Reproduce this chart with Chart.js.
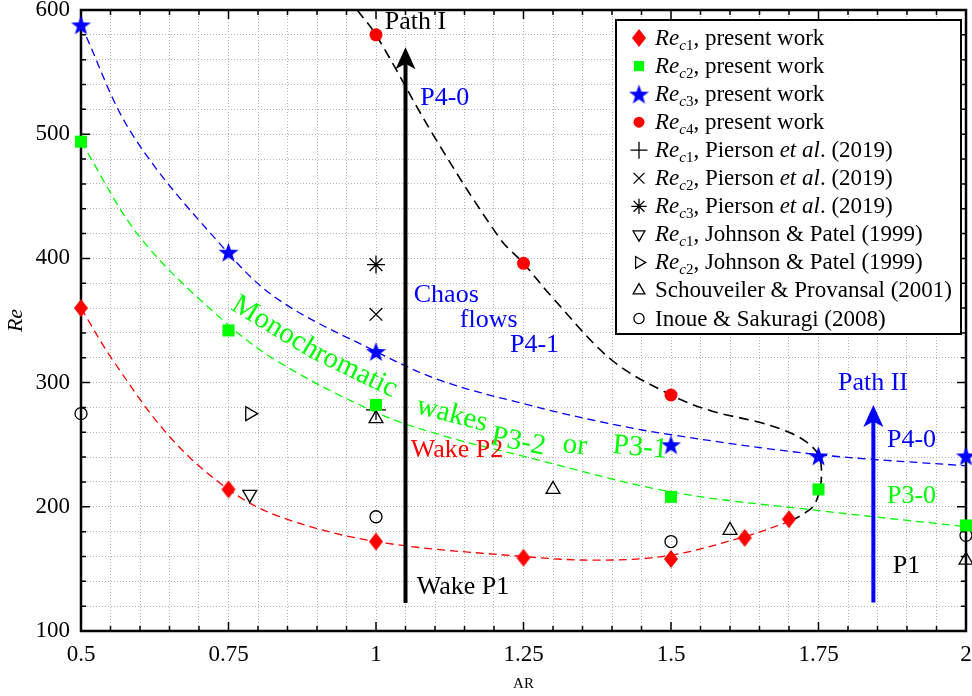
<!DOCTYPE html>
<html>
<head>
<meta charset="utf-8">
<script src="https://cdn.jsdelivr.net/npm/chart.js@4.4.1/dist/chart.umd.min.js"></script>
<style>
  html, body { margin: 0; padding: 0; background: #fff; }
  #wrap { width: 972px; height: 696px; }
</style>
</head>
<body>
<div id="wrap"><canvas id="reChart" width="972" height="696"></canvas></div>
<script>
// Critical Reynolds numbers against aspect ratio
const xTicks = [0.5, 0.75, 1, 1.25, 1.5, 1.75, 2];
const yTicks = [100, 200, 300, 400, 500, 600];

// present work
const rec1AR = [0.5, 0.75, 1, 1.25, 1.5, 1.625, 1.7];
const rec1Re = [360, 214, 172, 159, 158, 175, 190];
const rec2AR = [0.5, 0.75, 1, 1.5, 1.75, 2];
const rec2Re = [494, 342, 282, 208, 214, 185];
const rec3AR = [0.5, 0.75, 1, 1.5, 1.75, 2];
const rec3Re = [588, 405, 325, 250, 241, 241];
const rec4AR = [1, 1.25, 1.5];
const rec4Re = [580, 396, 290];

// published values
const piersonAR = [1];
const pierson1Re = [278];
const pierson2Re = [355];
const pierson3Re = [395];
const johnsonAR = [0.786];
const johnson1Re = [210];
const johnson2Re = [275];
const schouAR = [1, 1.3, 1.6, 2];
const schouRe = [271, 214, 181, 157];
const inoueAR = [0.5, 1, 1.5, 2];
const inoueRe = [275, 192, 172, 177];

// dashed transition boundaries
const fit1AR = [0.5, 0.554, 0.651, 0.75, 0.837, 1, 1.25, 1.38, 1.5, 1.625, 1.7];
const fit1Re = [360, 318, 256, 214, 192, 172, 160, 157, 161, 176, 188];
const fit2AR = [0.5, 0.6, 0.741, 0.837, 1, 1.108, 1.256, 1.5, 1.75, 2];
const fit2Re = [494, 417, 350, 316, 276, 258, 240, 212, 197, 184];
const fit3AR = [0.5, 0.588, 0.75, 0.837, 1, 1.108, 1.25, 1.38, 1.5, 1.75, 2];
const fit3Re = [588, 499, 404, 366, 325, 302, 283, 268.5, 258, 242, 233];
const fit4AR = [0.968, 1, 1.1, 1.21, 1.25, 1.3, 1.4, 1.5, 1.57, 1.65, 1.7, 1.73, 1.75, 1.755, 1.753, 1.742, 1.72, 1.7];
const fit4Re = [600, 580, 497, 416, 396, 368, 318, 290, 277, 268, 260, 252, 242, 230, 216, 201, 193, 188];

// path arrows: AR, start Re, tip Re
const arrowAR = [1.05, 1.843];
const arrowFrom = [122.5, 123];
const arrowTo = [570, 282];

const serif = '"Liberation Serif", "Times New Roman", Times, serif';
const RED = '#ff0000', GREEN = '#00ff00', BLUE = '#0000ff';

function zip(xs, ys) { return xs.map((x, i) => ({ x, y: ys[i] })); }

function starSprite(r, color) {
  const c = document.createElement('canvas');
  const s = Math.ceil(r * 2 + 2);
  c.width = s; c.height = s;
  const g = c.getContext('2d');
  g.fillStyle = color;
  g.beginPath();
  for (let i = 0; i < 10; i++) {
    const rr = i % 2 ? r * 0.4 : r;
    const a = -Math.PI / 2 + i * Math.PI / 5;
    g.lineTo(s / 2 + rr * Math.cos(a), s / 2 + 1 + rr * Math.sin(a));
  }
  g.closePath();
  g.fill();
  return c;
}

function diamondSprite(w, h, color) {
  const c = document.createElement('canvas');
  c.width = w + 2; c.height = h + 2;
  const g = c.getContext('2d');
  g.fillStyle = color;
  g.beginPath();
  g.moveTo(c.width / 2, 1);
  g.lineTo(c.width - 1, c.height / 2);
  g.lineTo(c.width / 2, c.height - 1);
  g.lineTo(1, c.height / 2);
  g.closePath();
  g.fill();
  return c;
}

function marks(label, data, style, extra) {
  return Object.assign({
    label, data, showLine: false, clip: false,
    pointStyle: style, pointRadius: 7, pointHoverRadius: 7,
    pointBackgroundColor: 'rgba(0,0,0,0)', pointBorderColor: '#000', pointBorderWidth: 1.3
  }, extra);
}

function curve(label, data, color, dash, width) {
  return {
    label, data, showLine: true, clip: false, pointRadius: 0, pointHoverRadius: 0,
    borderColor: color, borderWidth: width, borderDash: dash, tension: 0.35, fill: false
  };
}

const datasets = [
  marks('Re_c1 present', zip(rec1AR, rec1Re), diamondSprite(14, 18, RED)),
  marks('Re_c2 present', zip(rec2AR, rec2Re), 'rect', { pointRadius: 8.5, pointBackgroundColor: GREEN, pointBorderWidth: 0 }),
  marks('Re_c3 present', zip(rec3AR, rec3Re), starSprite(10.5, BLUE)),
  marks('Re_c4 present', zip(rec4AR, rec4Re), 'circle', { pointRadius: 6.5, pointBackgroundColor: RED, pointBorderWidth: 0 }),
  marks('Re_c1 Pierson', zip(piersonAR, pierson1Re), 'cross', { pointRadius: 10 }),
  marks('Re_c2 Pierson', zip(piersonAR, pierson2Re), 'crossRot', { pointRadius: 9 }),
  marks('Re_c3 Pierson', zip(piersonAR, pierson3Re), 'star', { pointRadius: 9 }),
  marks('Re_c1 Johnson', zip(johnsonAR, johnson1Re), 'triangle', { pointRadius: 8, pointRotation: 180 }),
  marks('Re_c2 Johnson', zip(johnsonAR, johnson2Re), 'triangle', { pointRadius: 8, pointRotation: 90 }),
  marks('Schouveiler', zip(schouAR, schouRe), 'triangle', { pointRadius: 8 }),
  marks('Inoue', zip(inoueAR, inoueRe), 'circle', { pointRadius: 6 }),
  curve('fit c1', zip(fit1AR, fit1Re), RED, [8, 5], 1.3),
  curve('fit c2', zip(fit2AR, fit2Re), GREEN, [8, 5], 1.3),
  curve('fit c3', zip(fit3AR, fit3Re), BLUE, [8, 5], 1.3),
  curve('fit c4', zip(fit4AR, fit4Re), '#000', [10, 6], 1.6)
];

// legend rows: dataset index + rich text runs (i italic, si italic subscript, s subscript)
const legendRows = [
  [0, [['Re', 'i'], ['c', 'si'], ['1', 's'], [', present work', 'r']]],
  [1, [['Re', 'i'], ['c', 'si'], ['2', 's'], [', present work', 'r']]],
  [2, [['Re', 'i'], ['c', 'si'], ['3', 's'], [', present work', 'r']]],
  [3, [['Re', 'i'], ['c', 'si'], ['4', 's'], [', present work', 'r']]],
  [4, [['Re', 'i'], ['c', 'si'], ['1', 's'], [', Pierson ', 'r'], ['et al', 'i'], ['. (2019)', 'r']]],
  [5, [['Re', 'i'], ['c', 'si'], ['2', 's'], [', Pierson ', 'r'], ['et al', 'i'], ['. (2019)', 'r']]],
  [6, [['Re', 'i'], ['c', 'si'], ['3', 's'], [', Pierson ', 'r'], ['et al', 'i'], ['. (2019)', 'r']]],
  [7, [['Re', 'i'], ['c', 'si'], ['1', 's'], [', Johnson & Patel (1999)', 'r']]],
  [8, [['Re', 'i'], ['c', 'si'], ['2', 's'], [', Johnson & Patel (1999)', 'r']]],
  [9, [['Schouveiler & Provansal (2001)', 'r']]],
  [10, [['Inoue & Sakuragi (2008)', 'r']]]
];

// regime labels anchored in data space (left edge, vertical centre)
const notes = [
  { text: 'Path I', x: 1.015, y: 590, color: '#000' },
  { text: 'P4-0', x: 1.075, y: 529, color: BLUE },
  { text: 'Chaos', x: 1.064, y: 370.5, color: BLUE },
  { text: 'flows', x: 1.142, y: 350.4, color: BLUE },
  { text: 'P4-1', x: 1.227, y: 330.3, color: BLUE },
  { text: 'Wake P2', x: 1.059, y: 245.7, color: RED },
  { text: 'Wake P1', x: 1.069, y: 135.4, color: '#000' },
  { text: 'Path II', x: 1.783, y: 299.7, color: BLUE },
  { text: 'P4-0', x: 1.866, y: 253.8, color: BLUE },
  { text: 'P3-0', x: 1.866, y: 208.7, color: GREEN },
  { text: 'P1', x: 1.876, y: 152.3, color: '#000' }
];

// curved label between the Re_c2 and Re_c3 boundaries (baseline paths)
const bentLabels = [
  { text: 'Monochromatic', path: [[0.7525, 359.2], [0.8881, 320.0], [1.0356, 286.0]] },
  { text: 'wakes', path: [[1.0661, 275.5], [1.1763, 261.8]] },
  { text: 'P3-2', path: [[1.1932, 250.6], [1.2864, 241.7]] },
  { text: 'or', path: [[1.3153, 244.1], [1.3627, 241.7]] },
  { text: 'P3-1', path: [[1.40, 243.3], [1.4949, 239.3]] }
];

function textOnPath(ctx, text, pts, font, color) {
  ctx.save();
  ctx.font = font;
  ctx.fillStyle = color;
  ctx.textAlign = 'center';
  ctx.textBaseline = 'alphabetic';
  const segs = [];
  let total = 0;
  for (let i = 1; i < pts.length; i++) {
    const dx = pts[i].x - pts[i - 1].x, dy = pts[i].y - pts[i - 1].y;
    const L = Math.hypot(dx, dy);
    segs.push({ p: pts[i - 1], dx, dy, L, s: total });
    total += L;
  }
  let s = 0;
  for (const ch of text) {
    const w = ctx.measureText(ch).width;
    const mid = s + w / 2;
    const seg = segs.find(g => mid <= g.s + g.L) || segs[segs.length - 1];
    const t = (mid - seg.s) / seg.L;
    ctx.save();
    ctx.translate(seg.p.x + seg.dx * t, seg.p.y + seg.dy * t);
    ctx.rotate(Math.atan2(seg.dy, seg.dx));
    ctx.fillText(ch, 0, 0);
    ctx.restore();
    s += w;
  }
  ctx.restore();
}

function drawArrow(ctx, x, y0, y1, color) {
  const headW = 20, headL = 22;
  ctx.strokeStyle = color;
  ctx.fillStyle = color;
  ctx.lineWidth = 4;
  ctx.beginPath();
  ctx.moveTo(x, y0);
  ctx.lineTo(x, y1 + headL * 0.7);
  ctx.stroke();
  ctx.beginPath();
  ctx.moveTo(x, y1);
  ctx.lineTo(x - headW / 2, y1 + headL);
  ctx.lineTo(x, y1 + headL * 0.75);
  ctx.lineTo(x + headW / 2, y1 + headL);
  ctx.closePath();
  ctx.fill();
}

function drawMarker(ctx, ds, x, y, scale) {
  ctx.save();
  ctx.fillStyle = ds.pointBackgroundColor;
  ctx.strokeStyle = ds.pointBorderColor;
  ctx.lineWidth = ds.pointBorderWidth;
  if (Chart.helpers && Chart.helpers.drawPoint) {
    Chart.helpers.drawPoint(ctx, {
      pointStyle: ds.pointStyle,
      rotation: ds.pointRotation || 0,
      radius: ds.pointRadius * scale,
      borderWidth: ds.pointBorderWidth
    }, x, y);
  }
  ctx.restore();
}

function drawRich(ctx, parts, x, y) {
  let cx = x;
  for (const [t, st] of parts) {
    const sub = st === 'si' || st === 's';
    const italic = st === 'i' || st === 'si';
    ctx.font = (italic ? 'italic ' : '') + (sub ? 15 : 23) + 'px ' + serif;
    ctx.fillText(t, cx, y + (sub ? 5 : 0));
    cx += ctx.measureText(t).width;
  }
}

const isTick = (list, v) => list.some(t => Math.abs(t - v) < 1e-6);

const decor = {
  id: 'decor',
  beforeDatasetsDraw(chart) {
    const { ctx, chartArea: a, scales: { x, y } } = chart;
    ctx.save();
    ctx.strokeStyle = '#000';
    ctx.lineWidth = 1.5;
    ctx.beginPath();
    x.ticks.forEach(t => {
      const px = x.getPixelForValue(t.value);
      const len = isTick(xTicks, t.value) ? 9 : 5;
      ctx.moveTo(px, a.bottom); ctx.lineTo(px, a.bottom - len);
      ctx.moveTo(px, a.top); ctx.lineTo(px, a.top + len);
    });
    y.ticks.forEach(t => {
      const py = y.getPixelForValue(t.value);
      const len = isTick(yTicks, t.value) ? 9 : 5;
      ctx.moveTo(a.left, py); ctx.lineTo(a.left + len, py);
      ctx.moveTo(a.right, py); ctx.lineTo(a.right - len, py);
    });
    ctx.stroke();
    ctx.lineWidth = 2.5;
    ctx.strokeRect(a.left, a.top, a.right - a.left, a.bottom - a.top);
    ctx.restore();
  },
  afterDatasetsDraw(chart) {
    const { ctx, scales: { x, y } } = chart;
    ctx.save();
    arrowAR.forEach((ar, i) => {
      drawArrow(ctx, x.getPixelForValue(ar), y.getPixelForValue(arrowFrom[i]), y.getPixelForValue(arrowTo[i]), i === 0 ? '#000' : BLUE);
    });
    ctx.font = '26px ' + serif;
    ctx.textAlign = 'left';
    ctx.textBaseline = 'middle';
    notes.forEach(n => {
      ctx.fillStyle = n.color;
      ctx.fillText(n.text, x.getPixelForValue(n.x), y.getPixelForValue(n.y));
    });
    bentLabels.forEach(b => {
      const pts = b.path.map(p => ({ x: x.getPixelForValue(p[0]), y: y.getPixelForValue(p[1]) }));
      textOnPath(ctx, b.text, pts, '29px ' + serif, GREEN);
    });
    ctx.restore();
  },
  afterDraw(chart) {
    const { ctx } = chart;
    const box = { left: 616, top: 20, right: 961, bottom: 334 };
    ctx.save();
    ctx.fillStyle = '#fff';
    ctx.fillRect(box.left, box.top, box.right - box.left, box.bottom - box.top);
    ctx.strokeStyle = '#000';
    ctx.lineWidth = 2;
    ctx.strokeRect(box.left, box.top, box.right - box.left, box.bottom - box.top);
    ctx.textAlign = 'left';
    ctx.textBaseline = 'alphabetic';
    legendRows.forEach(([idx, parts], r) => {
      const base = 45 + r * 28.05;
      const ds = chart.data.datasets[idx];
      drawMarker(ctx, ds, 639, base - 7, 0.85);
      ctx.fillStyle = '#000';
      drawRich(ctx, parts, 655, base);
    });
    ctx.restore();
  }
};

new Chart(document.getElementById('reChart'), {
  type: 'scatter',
  data: { datasets },
  plugins: [decor],
  options: {
    responsive: false,
    animation: false,
    events: [],
    layout: { autoPadding: false, padding: { top: 10, right: 6, left: 0, bottom: 0 } },
    plugins: { legend: { display: false }, tooltip: { enabled: false } },
    scales: {
      x: {
        type: 'linear', min: 0.5, max: 2,
        afterFit(s) { s.height = 65; s.paddingLeft = 0; s.paddingRight = 0; },
        border: { display: false, dash: [1, 2] },
        grid: { color: '#b4b4b4', lineWidth: 1, drawTicks: false },
        ticks: {
          stepSize: 0.05, maxTicksLimit: 100, autoSkip: false, maxRotation: 0, padding: 10,
          color: '#000', font: { family: serif, size: 23 },
          callback: v => isTick(xTicks, v) ? String(xTicks.find(t => Math.abs(t - v) < 1e-6)) : ''
        },
        title: { display: true, text: 'AR', color: '#000', font: { family: serif, size: 15 }, padding: { top: 0, bottom: 3 } }
      },
      y: {
        type: 'linear', min: 100, max: 600,
        afterFit(s) { s.width = 81; s.paddingTop = 0; s.paddingBottom = 0; },
        border: { display: false, dash: [1, 2] },
        grid: { color: '#b4b4b4', lineWidth: 1, drawTicks: false },
        ticks: {
          stepSize: 20, maxTicksLimit: 100, autoSkip: false, padding: 11,
          color: '#000', font: { family: serif, size: 23 },
          callback: v => isTick(yTicks, v) ? String(v) : ''
        },
        title: { display: true, text: 'Re', color: '#000', font: { family: serif, size: 22, style: 'italic' }, padding: { top: 3, bottom: 0 } }
      }
    }
  }
});
</script>
</body>
</html>
